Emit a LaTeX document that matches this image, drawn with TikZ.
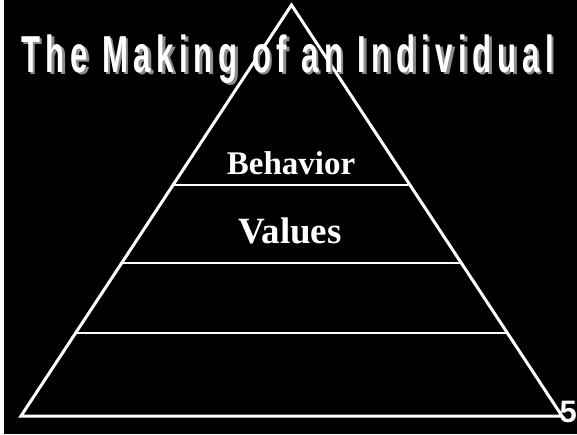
\documentclass[tikz,border=0pt]{standalone}
\usepackage{fontspec}
\setmainfont{Liberation Serif}
\newfontfamily\titlefont[FakeStretch=0.6,LetterSpace=10.8]{Liberation Sans}
\newfontfamily\numfont{Liberation Sans}
\usetikzlibrary{calc}
\definecolor{shadowgray}{HTML}{8C8C8C}

\begin{document}
\begin{tikzpicture}[x=1pt, y=-1pt,
        edge/.style={draw=white, line width=3pt, line join=miter},
        level/.style={draw=white, line width=1.6pt},
        title/.style={anchor=base, inner sep=0pt, font=\titlefont\bfseries\fontsize{52}{52}\selectfont},
        label/.style={anchor=base, inner sep=0pt, text=white}
    ]
      \useasboundingbox (0,0) rectangle (577,434);
      \fill[white] (0,0) rectangle (577,434);
      \fill[black] (4,0) rectangle (577,434);
      % pyramid corners
      \coordinate (apex) at (291.5,5);
      \coordinate (baseL) at (21,416);
      \coordinate (baseR) at (562,416);
      % the levels
      \foreach \t/\n in {0.438/behav, 0.628/vals, 0.798/third}
        \draw[level] ($(apex)!\t!(baseL)$) coordinate (\n L) -- ($(apex)!\t!(baseR)$) coordinate (\n R);
      \draw[edge] (apex) -- (baseL) -- (baseR) -- cycle;
      % title with its shadow
      \node[title, text=shadowgray] (titleshadow) at (290,74.5) {The Making of an Individual};
      \node[title, text=white] (title) at (287.5,72) {The Making of an Individual};
      \node[label, font=\bfseries\fontsize{33}{33}\selectfont] (behavior) at (291,174) {Behavior};
      \node[label, font=\bfseries\fontsize{37}{37}\selectfont] (values) at (290,243) {Values};
      \node[label, anchor=base east, font=\numfont\bfseries\fontsize{31}{31}\selectfont] (pagenum) at (577,422) {5};
    \end{tikzpicture}
\end{document}
